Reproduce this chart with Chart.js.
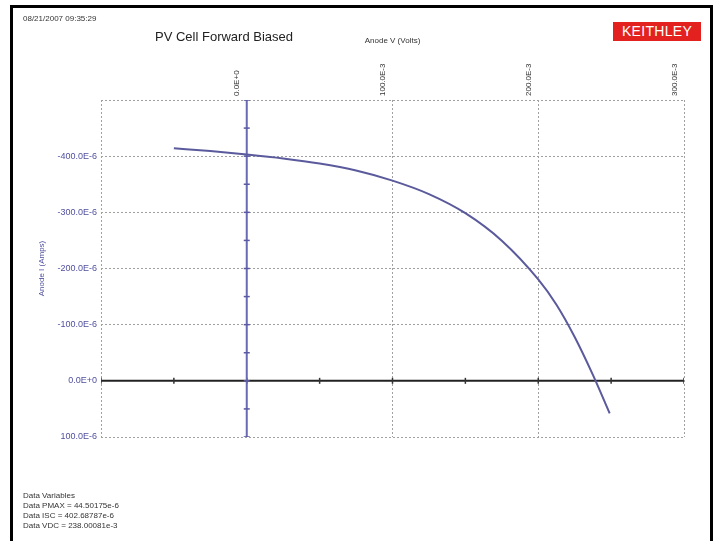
<!DOCTYPE html>
<html>
<head>
<meta charset="utf-8">
<script src="https://cdn.jsdelivr.net/npm/chart.js@4.4.0/dist/chart.umd.min.js"></script>
<style>
  html, body { margin: 0; padding: 0; background: #fff; }
  #wrap { position: relative; width: 718px; height: 541px; overflow: hidden; font-family: "Liberation Sans", Arial, sans-serif; }
  #frame { position: absolute; left: 10px; top: 5px; width: 697px; height: 545px; border: 3px solid #000; box-sizing: content-box; }
  canvas { position: absolute; left: 0; top: 0; }
  .txt { position: absolute; color: #333; white-space: nowrap; }
  #date { left: 23px; top: 14px; font-size: 8px; }
  #title { left: 155px; top: 29px; font-size: 13px; color: #222; }
  #logo { position: absolute; left: 613px; top: 22px; width: 88px; height: 19px; background: #e3211f; color: #fff; font-size: 14px; line-height: 19px; text-align: center; letter-spacing: 0.3px; }
  #vars { left: 23px; top: 491px; font-size: 8px; line-height: 10px; }
</style>
</head>
<body>
<div id="wrap">
  <canvas id="c" width="718" height="541"></canvas>
  <div id="frame"></div>
  <div class="txt" id="date">08/21/2007 09:35:29</div>
  <div class="txt" id="title">PV Cell Forward Biased</div>
  <div id="logo">KEITHLEY</div>
  <div class="txt" id="vars">Data Variables<br>Data PMAX = 44.50175e-6<br>Data ISC = 402.68787e-6<br>Data VDC = 238.00081e-3</div>
</div>
<script>
// Anode voltage (V) and anode current (A)
const anodeVolts = [-0.050, -0.025, 0.000, 0.025, 0.050, 0.075, 0.100, 0.125, 0.150, 0.175, 0.200, 0.2125, 0.225, 0.2375, 0.249];
const anodeAmps  = [-414e-6, -409e-6, -403e-6, -396e-6, -387e-6, -374.5e-6, -356.5e-6, -332.5e-6, -298.5e-6, -249.5e-6, -180.5e-6, -135.5e-6, -78e-6, -10.5e-6, 58e-6];

// Axis ranges and tick steps
const xRange = [-0.1, 0.3];
const xStep = 0.1;
const yRange = [-500e-6, 100e-6];
const yStep = 100e-6;

// Marks on the zero axes (every half step)
const zeroAxisVoltTicks = [-0.1, -0.05, 0, 0.05, 0.1, 0.15, 0.2, 0.25, 0.3];
const zeroAxisAmpTicks = [-500e-6, -450e-6, -400e-6, -350e-6, -300e-6, -250e-6, -200e-6, -150e-6, -100e-6, -50e-6, 0, 50e-6, 100e-6];

function fmtX(v) {
  const m = Math.round(v * 1000);
  if (m === -100) return '';
  if (m === 0) return '0.0E+0';
  return m.toFixed(1) + 'E-3';
}
function fmtY(v) {
  const u = Math.round(v * 1e6);
  if (u === -500) return '';
  if (u === 0) return '0.0E+0';
  return u.toFixed(1) + 'E-6';
}

const curve = anodeVolts.map((v, i) => ({ x: v, y: anodeAmps[i] }));
const xAxisLine = zeroAxisVoltTicks.map(v => ({ x: v, y: 0 }));
const yAxisLine = zeroAxisAmpTicks.map(a => ({ x: 0, y: a }));

new Chart(document.getElementById('c'), {
  type: 'scatter',
  data: {
    datasets: [
      {
        label: 'Anode I',
        data: curve,
        showLine: true,
        borderColor: '#5a5a9c',
        borderWidth: 2,
        pointRadius: 0,
        cubicInterpolationMode: 'monotone',
        order: 0
      },
      {
        label: 'zeroV',
        data: xAxisLine,
        showLine: true,
        borderColor: '#222',
        borderWidth: 2,
        pointStyle: 'line',
        rotation: 90,
        pointRadius: 3,
        pointBorderWidth: 1.5,
        pointBorderColor: '#333',
        order: 2
      },
      {
        label: 'zeroI',
        data: yAxisLine,
        showLine: true,
        borderColor: '#6a6ab4',
        borderWidth: 2,
        pointStyle: 'line',
        rotation: 0,
        pointRadius: 3,
        pointBorderWidth: 1.5,
        pointBorderColor: '#5a5aa4',
        order: 1
      }
    ]
  },
  options: {
    responsive: false,
    animation: false,
    devicePixelRatio: 1,
    layout: { padding: { left: 37, top: 33, right: 34, bottom: 104 } },
    plugins: { legend: { display: false }, tooltip: { enabled: false } },
    scales: {
      x: {
        type: 'linear',
        position: 'top',
        min: xRange[0],
        max: xRange[1],
        afterFit: s => { s.height = 67; },
        ticks: {
          stepSize: xStep,
          autoSkip: false,
          maxRotation: 90,
          minRotation: 90,
          padding: 4,
          color: '#333',
          font: { family: 'Liberation Sans', size: 8 },
          callback: v => fmtX(v)
        },
        grid: { color: '#a0a0a0', lineWidth: 1, drawTicks: false },
        border: { display: false, dash: [2, 2] },
        title: {
          display: true,
          text: 'Anode V (Volts)',
          color: '#333',
          font: { family: 'Liberation Sans', size: 8 },
          padding: { top: 3, bottom: 0 }
        }
      },
      y: {
        type: 'linear',
        position: 'left',
        reverse: true,
        min: yRange[0],
        max: yRange[1],
        afterFit: s => { s.width = 64; },
        ticks: {
          stepSize: yStep,
          padding: 4,
          color: '#5050a0',
          font: { family: 'Liberation Sans', size: 9 },
          callback: v => fmtY(v)
        },
        grid: { color: '#a0a0a0', lineWidth: 1, drawTicks: false },
        border: { display: false, dash: [2, 2] },
        title: {
          display: true,
          text: 'Anode I (Amps)',
          color: '#5050a0',
          font: { family: 'Liberation Sans', size: 8 },
          padding: { top: 0, bottom: 0 }
        }
      }
    }
  }
});
</script>
</body>
</html>
